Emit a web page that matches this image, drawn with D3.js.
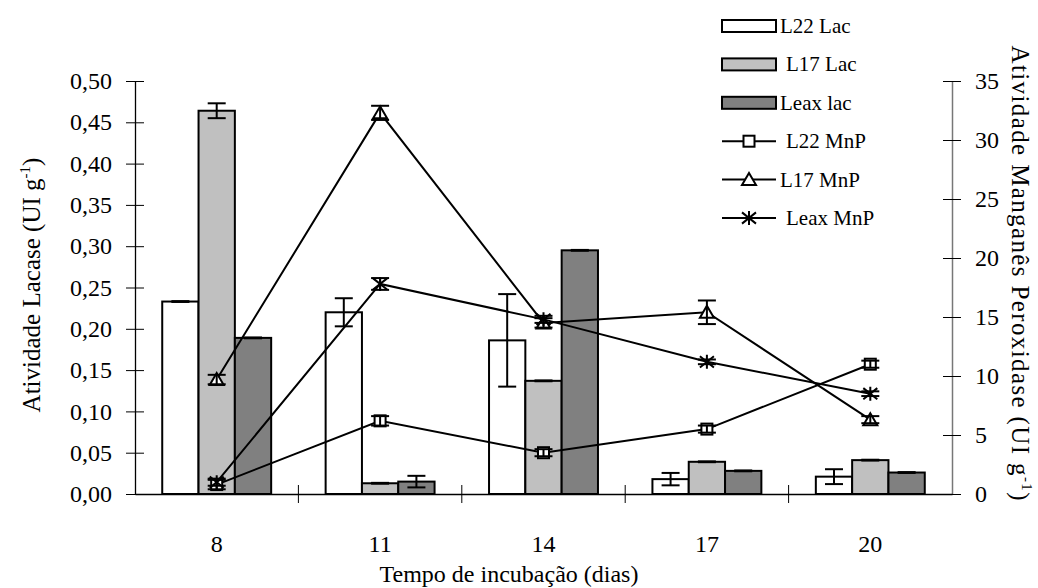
<!DOCTYPE html>
<html>
<head>
<meta charset="utf-8">
<script src="https://cdn.jsdelivr.net/npm/d3@7"></script>
<style>
  body { margin: 0; background: #fff; }
  svg text { font-family: "Liberation Serif", "DejaVu Serif", serif !important; fill: #000; }
</style>
</head>
<body>
<div id="chart"></div>
<script>
const width = 1038;
const height = 588;

// data
const days = ["8", "11", "14", "17", "20"];
const lacNames = ["L22 Lac", "L17 Lac", "Leax lac"];
const lacColors = ["#ffffff", "#c0c0c0", "#808080"];
const l22Lac = [0.233, 0.220, 0.186, 0.018, 0.021];
const l22LacErr = [0.0005, 0.017, 0.056, 0.0075, 0.009];
const l17Lac = [0.464, 0.013, 0.137, 0.039, 0.041];
const l17LacErr = [0.009, 0.0005, 0.0005, 0.0005, 0.0005];
const leaxLac = [0.189, 0.015, 0.295, 0.028, 0.026];
const leaxLacErr = [0.0005, 0.007, 0.0005, 0.0005, 0.0005];

const mnpNames = ["L22 MnP", "L17 MnP", "Leax MnP"];
const mnpMarkers = ["square", "triangle", "star"];
const l22MnP = [0.8, 6.2, 3.5, 5.5, 11.0];
const l22MnPErr = [0.4, 0.4, 0.3, 0.3, 0.3];
const l17MnP = [9.7, 32.3, 14.5, 15.4, 6.3];
const l17MnPErr = [0.4, 0.6, 0.4, 1.0, 0.3];
const leaxMnP = [1.0, 17.8, 14.8, 11.2, 8.5];
const leaxMnPErr = [0.3, 0.5, 0.3, 0.2, 0.2];

const leftTicks = [0, 0.05, 0.10, 0.15, 0.20, 0.25, 0.30, 0.35, 0.40, 0.45, 0.50];
const rightTicks = [0, 5, 10, 15, 20, 25, 30, 35];

const lacSeries = [
  { name: lacNames[0], color: lacColors[0], values: l22Lac, err: l22LacErr },
  { name: lacNames[1], color: lacColors[1], values: l17Lac, err: l17LacErr },
  { name: lacNames[2], color: lacColors[2], values: leaxLac, err: leaxLacErr }
];
const mnpSeries = [
  { name: mnpNames[0], marker: mnpMarkers[0], values: l22MnP, err: l22MnPErr },
  { name: mnpNames[1], marker: mnpMarkers[1], values: l17MnP, err: l17MnPErr },
  { name: mnpNames[2], marker: mnpMarkers[2], values: leaxMnP, err: leaxMnPErr }
];

const margin = { left: 135, right: 86, top: 81, bottom: 94 };
const x0 = margin.left, x1 = width - margin.right;
const yTop = margin.top, yBot = height - margin.bottom;

const svg = d3.select("#chart").append("svg")
  .attr("width", width)
  .attr("height", height);

const x = d3.scaleBand().domain(days).range([x0, x1]).padding(0);
const bw = x.bandwidth();
const xs = d3.scaleBand().domain(lacNames).range([bw / 6, bw * 5 / 6]).padding(0);
const yL = d3.scaleLinear().domain([0, 0.5]).range([yBot, yTop]);
const yR = d3.scaleLinear().domain([0, 35]).range([yBot, yTop]);

// bars
lacSeries.forEach(s => {
  const g = svg.append("g");
  g.selectAll("rect").data(s.values).join("rect")
    .attr("x", (d, i) => x(days[i]) + xs(s.name))
    .attr("y", d => yL(d))
    .attr("width", xs.bandwidth())
    .attr("height", d => yBot - yL(d))
    .attr("fill", s.color)
    .attr("stroke", "#000")
    .attr("stroke-width", 2);
  // error bars
  s.values.forEach((v, i) => {
    const cx = x(days[i]) + xs(s.name) + xs.bandwidth() / 2;
    const e = s.err[i];
    const eg = svg.append("g").attr("stroke", "#000").attr("stroke-width", 2);
    eg.append("line").attr("x1", cx).attr("x2", cx).attr("y1", yL(v + e)).attr("y2", yL(v - e));
    eg.append("line").attr("x1", cx - 9).attr("x2", cx + 9).attr("y1", yL(v + e)).attr("y2", yL(v + e));
    eg.append("line").attr("x1", cx - 9).attr("x2", cx + 9).attr("y1", yL(v - e)).attr("y2", yL(v - e));
  });
});

function drawMarker(g, type, cx, cy) {
  if (type === "square") {
    g.append("rect").attr("x", cx - 5.5).attr("y", cy - 5.5).attr("width", 11).attr("height", 11)
      .attr("fill", "#fff").attr("stroke", "#000").attr("stroke-width", 2);
  } else if (type === "triangle") {
    g.append("path").attr("d", `M${cx},${cy - 6.5}L${cx + 7},${cy + 5.5}L${cx - 7},${cy + 5.5}Z`)
      .attr("fill", "#fff").attr("stroke", "#000").attr("stroke-width", 2);
  } else {
    const r = 7;
    g.append("path")
      .attr("d", `M${cx - r},${cy - r * 0.8}L${cx + r},${cy + r * 0.8}M${cx - r},${cy + r * 0.8}L${cx + r},${cy - r * 0.8}M${cx},${cy - r}L${cx},${cy + r}`)
      .attr("fill", "none").attr("stroke", "#000").attr("stroke-width", 2);
  }
}

// lines
const line = d3.line()
  .x((d, i) => x(days[i]) + bw / 2)
  .y(d => yR(d));

mnpSeries.forEach(s => {
  svg.append("path").datum(s.values)
    .attr("d", line)
    .attr("fill", "none")
    .attr("stroke", "#000")
    .attr("stroke-width", 2);
});
mnpSeries.forEach(s => {
  const g = svg.append("g");
  s.values.forEach((v, i) => {
    const cx = x(days[i]) + bw / 2;
    drawMarker(g, s.marker, cx, yR(v));
    const e = s.err[i];
    const eg = g.append("g").attr("stroke", "#000").attr("stroke-width", 2);
    eg.append("line").attr("x1", cx).attr("x2", cx).attr("y1", yR(v + e)).attr("y2", yR(v - e));
    eg.append("line").attr("x1", cx - 9).attr("x2", cx + 9).attr("y1", yR(v + e)).attr("y2", yR(v + e));
    eg.append("line").attr("x1", cx - 9).attr("x2", cx + 9).attr("y1", yR(v - e)).attr("y2", yR(v - e));
  });
});

// axes
const fmt = d => d3.format(".2f")(d).replace(".", ",");

const axL = svg.append("g").attr("transform", `translate(${x0},0)`)
  .call(d3.axisLeft(yL).tickValues(leftTicks).tickFormat(fmt).tickSizeInner(9).tickSizeOuter(0).tickPadding(14));
axL.selectAll(".tick line").attr("x2", 9).attr("x1", -9).attr("stroke", "#000");
axL.select(".domain").attr("stroke", "#000").attr("stroke-width", 1.3);
axL.selectAll("text").style("font-size", "24px");

const axR = svg.append("g").attr("transform", `translate(${x1},0)`)
  .call(d3.axisRight(yR).tickValues(rightTicks).tickSizeInner(9).tickSizeOuter(0).tickPadding(14));
axR.selectAll(".tick line").attr("x1", -9).attr("x2", 9).attr("stroke", "#000");
axR.select(".domain").attr("stroke", "#777").attr("stroke-width", 1.5);
axR.selectAll("text").style("font-size", "24px");

const axB = svg.append("g").attr("transform", `translate(0,${yBot})`)
  .call(d3.axisBottom(x).tickSize(0).tickPadding(41));
axB.select(".domain").attr("stroke", "#000").attr("stroke-width", 1.3);
axB.selectAll("text").style("font-size", "24px");

// category separator ticks
svg.append("g").selectAll("line")
  .data(days.slice(1))
  .join("line")
  .attr("x1", d => x(d)).attr("x2", d => x(d))
  .attr("y1", yBot - 9).attr("y2", yBot + 9)
  .attr("stroke", "#000");

// axis titles
svg.append("text")
  .attr("x", 509).attr("y", 582)
  .attr("text-anchor", "middle").style("font-size", "24px")
  .text("Tempo de incubação (dias)");

const tl = svg.append("text")
  .attr("transform", `translate(40,${285}) rotate(-90)`)
  .attr("text-anchor", "middle").style("font-size", "25px");
tl.append("tspan").text("Atividade Lacase (UI g");
tl.append("tspan").style("font-size", "15px").attr("dy", -10).text("-1");
tl.append("tspan").attr("dy", 10).text(")");

const tr = svg.append("text")
  .attr("transform", `translate(1012,${273}) rotate(90)`)
  .attr("text-anchor", "middle").style("font-size", "25px")
  .attr("textLength", 455).attr("lengthAdjust", "spacing");
tr.append("tspan").text("Atividade Manganês Peroxidase (UI g");
tr.append("tspan").style("font-size", "15px").attr("dy", -10).text("-1");
tr.append("tspan").attr("dy", 10).text(")");

// legend
const legX = 722, legW = 54, legY0 = 26, legStep = 38.4;
lacSeries.forEach((s, i) => {
  const cy = legY0 + i * legStep;
  svg.append("rect").attr("x", legX).attr("y", cy - 6).attr("width", legW).attr("height", 12)
    .attr("fill", s.color).attr("stroke", "#000").attr("stroke-width", 2);
  svg.append("text").attr("x", legX + legW + 4 + (i === 1 ? 6 : 0)).attr("y", cy + 7)
    .style("font-size", "21px").text(s.name);
});
mnpSeries.forEach((s, i) => {
  const cy = legY0 + (i + 3) * legStep;
  const g = svg.append("g");
  g.append("line").attr("x1", legX).attr("x2", legX + legW).attr("y1", cy).attr("y2", cy)
    .attr("stroke", "#000").attr("stroke-width", 2);
  drawMarker(g, s.marker, legX + legW / 2, cy);
  svg.append("text").attr("x", legX + legW + 4 + (i !== 1 ? 6 : 0)).attr("y", cy + 7)
    .style("font-size", "21px").text(s.name);
});
</script>
</body>
</html>
